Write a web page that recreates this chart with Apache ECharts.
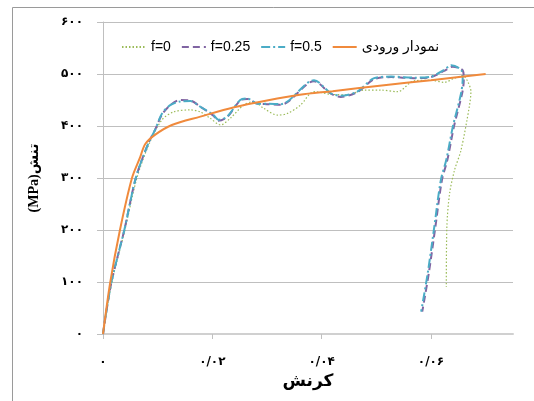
<!DOCTYPE html>
<html>
<head>
<meta charset="utf-8">
<script src="https://cdn.jsdelivr.net/npm/echarts@6/dist/echarts.min.js"></script>
<style>
html,body{margin:0;padding:0;background:#fff;}
#chart{width:534px;height:401px;}
</style>
</head>
<body>
<div id="chart"></div>
<script>
// نام سری ها
var seriesNames = ['f=0', 'f=0.25', 'f=0.5', 'نمودار ورودی'];

// برچسب محورها
var xTickValues = [0, 0.02, 0.04, 0.06];
var xTickLabels = ['۰', '۰/۰۲', '۰/۰۴', '۰/۰۶'];
var yTickLabels = ['۰', '۱۰۰', '۲۰۰', '۳۰۰', '۴۰۰', '۵۰۰', '۶۰۰'];

// داده ها [کرنش, تنش]
var f0 = [[0,0],[0.0016,98],[0.004,200],[0.0062,300],[0.0085,367],[0.0108,412],[0.0129,427],[0.016,431],
	[0.0178,427],[0.0196,415],[0.0215,402],[0.0233,415],[0.0257,440],[0.0275,447],[0.0294,434],[0.0319,421],
	[0.0337,424],[0.0361,440],[0.0386,466],[0.0417,461],[0.0447,460],[0.0477,469],[0.0508,469],[0.0539,466],
	[0.0569,487],[0.060,488],[0.0624,484],[0.0643,492],[0.0658,497],[0.0667,486],[0.0673,466],[0.067,437],
	[0.0655,354],[0.0643,315],[0.0634,270],[0.0629,206],[0.0628,91]];
var f025 = [[0,0],[0.0015,98],[0.0039,200],[0.006,300],[0.0083,367],[0.0095,392],[0.0108,422],[0.0123,440],
	[0.0141,450],[0.016,449],[0.0178,437],[0.0202,420],[0.0211,410],[0.0227,417],[0.0251,449],[0.0264,452],
	[0.0282,443],[0.030,442],[0.0325,441],[0.0386,486],[0.0417,462],[0.0435,456],[0.0465,465],[0.0496,490],
	[0.0527,494],[0.0569,492],[0.060,494],[0.0624,506],[0.064,514],[0.0658,507],[0.066,490],[0.0657,463],
	[0.0642,399],[0.063,335],[0.062,296],[0.0608,206],[0.0596,117],[0.0584,43]];
var f05 = [[0,0],[0.0015,98],[0.0039,200],[0.006,300],[0.0083,367],[0.0095,392],[0.0108,424],[0.0123,440],
	[0.0141,447],[0.016,448],[0.0178,437],[0.0202,421],[0.0211,412],[0.0227,418],[0.0251,450],[0.0264,453],
	[0.0282,443],[0.030,443],[0.0325,442],[0.0386,488],[0.0417,463],[0.0435,458],[0.0465,466],[0.0496,492],
	[0.0527,495],[0.0569,493],[0.060,495],[0.0624,508],[0.0637,517],[0.0655,508],[0.0658,492],[0.0655,463],
	[0.064,399],[0.0628,335],[0.0618,296],[0.0606,206],[0.0594,117],[0.0582,43]];
var inputCurve = [[0,0],[0.0013,98],[0.0031,200],[0.0053,300],[0.0068,340],[0.0077,365],[0.0095,383],
	[0.0126,402],[0.0178,418],[0.024,436],[0.030,449],[0.036,460],[0.042,467],[0.051,478],[0.060,488],[0.070,500]];

var persianFont = "'Liberation Sans','DejaVu Sans',sans-serif";

var chart = echarts.init(document.getElementById('chart'));
var option = {
	animation: false,
	backgroundColor: '#fff',
	graphic: [{
		type: 'rect', silent: true, z: -1,
		shape: {x: 12.5, y: 7.5, width: 600, height: 500},
		style: {fill: 'none', stroke: '#9a9a9a', lineWidth: 1}
	}],
	grid: {left: 103, right: 21, top: 22, bottom: 67},
	legend: {
		top: 35, left: 116,
		itemWidth: 24, itemHeight: 10, itemGap: 10,
		itemStyle: {opacity: 0},
		textStyle: {fontFamily: persianFont, fontSize: 14, color: '#000'},
		data: seriesNames
	},
	xAxis: {
		type: 'value', min: 0, max: 0.075,
		name: 'کرنش', nameLocation: 'middle', nameGap: 26,
		nameTextStyle: {fontFamily: 'DejaVu Sans', fontWeight: 'bold', fontSize: 17, color: '#000'},
		axisLine: {lineStyle: {color: '#d0d0d0', width: 2}},
		axisTick: {show: true, length: 5, customValues: xTickValues, lineStyle: {color: '#c0c0c0'}},
		axisLabel: {
			customValues: xTickValues, margin: 22,
			fontFamily: 'DejaVu Sans', fontWeight: 'bold', fontSize: 12, color: '#000',
			formatter: function(v){ return xTickLabels[Math.round(v / 0.02)]; }
		},
		splitLine: {show: false}
	},
	yAxis: {
		type: 'value', min: 0, max: 600, interval: 100,
		name: '(MPa)تنش', nameLocation: 'middle', nameGap: 62, nameRotate: 90,
		nameTextStyle: {fontFamily: "'Liberation Serif','DejaVu Sans',serif", fontWeight: 'bold', fontSize: 14, color: '#000'},
		axisLine: {show: true, lineStyle: {color: '#bfbfbf'}},
		axisTick: {show: true, length: 6, lineStyle: {color: '#bfbfbf'}},
		axisLabel: {
			margin: 20, fontFamily: 'DejaVu Sans', fontWeight: 'bold', fontSize: 12, color: '#000',
			formatter: function(v){ return yTickLabels[Math.round(v / 100)]; }
		},
		splitLine: {lineStyle: {color: '#bfbfbf', width: 1}}
	},
	series: [
		{name: seriesNames[0], type: 'line', data: f0, symbol: 'none', smooth: 0.3,
			lineStyle: {color: '#9bbb59', width: 1.2, type: [1.5, 2]}, itemStyle: {color: '#9bbb59'}},
		{name: seriesNames[1], type: 'line', data: f025, symbol: 'none', smooth: 0.3,
			lineStyle: {color: '#8064a2', width: 2, type: [7, 4]}, itemStyle: {color: '#8064a2'}},
		{name: seriesNames[2], type: 'line', data: f05, symbol: 'none', smooth: 0.3,
			lineStyle: {color: '#4bacc6', width: 2, type: [9, 3, 2, 3]}, itemStyle: {color: '#4bacc6'}},
		{name: seriesNames[3], type: 'line', data: inputCurve, symbol: 'none', smooth: 0.3,
			lineStyle: {color: '#f08a3c', width: 2}, itemStyle: {color: '#f08a3c'}}
	]
};
chart.setOption(option);
</script>
</body>
</html>
